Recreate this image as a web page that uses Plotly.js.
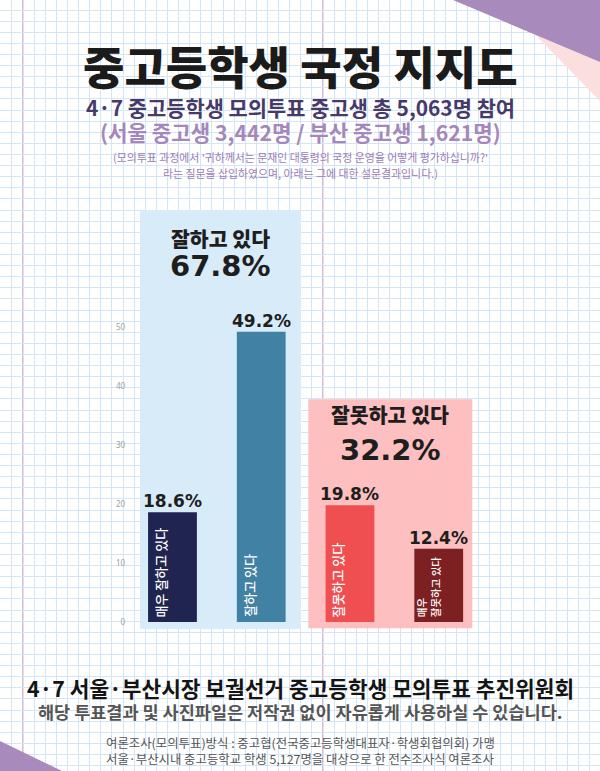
<!DOCTYPE html>
<html>
<head>
<meta charset="utf-8">
<script src="https://cdn.plot.ly/plotly-3.0.1.min.js"></script>
<style>html,body{margin:0;padding:0;background:#fff;}#chart{width:600px;height:771px;}</style>
</head>
<body>
<div id="chart"></div>
<script>
// ---- data ----
const categories = ['매우 잘하고 있다', '잘하고 있다', '잘못하고 있다', '매우 잘못하고 있다'];
const barLabels = ['매우 잘하고 있다', '잘하고 있다', '잘못하고 있다', '매우<br>잘못하고 있다'];
const values = [18.6, 49.2, 19.8, 12.4];
const barColors = ['#1f2550', '#4181a3', '#f04f51', '#7c2022'];
const groupNames = ['잘하고 있다', '잘못하고 있다'];
const groupTotals = [67.8, 32.2];
const yTickVals = [0, 10, 20, 30, 40, 50];
const titleText = '중고등학생 국정 지지도';
const subtitle1 = '4·7 중고등학생 모의투표 중고생 총 5,063명 참여';
const subtitle2 = '(서울 중고생 3,442명 / 부산 중고생 1,621명)';
const noteLines = ["(모의투표 과정에서 '귀하께서는 문재인 대통령의 국정 운영을 어떻게 평가하십니까?'", "라는 질문을 삽입하였으며, 아래는 그에 대한 설문결과입니다.)"];
const footer1 = '4·7 서울·부산시장 보궐선거 중고등학생 모의투표 추진위원회';
const footer2 = '해당 투표결과 및 사진파일은 저작권 없이 자유롭게 사용하실 수 있습니다.';
const footerNotes = ['여론조사(모의투표)방식 : 중고협(전국중고등학생대표자·학생회협의회) 가맹', '서울·부산시내 중고등학교 학생 5,127명을 대상으로 한 전수조사식 여론조사'];

// ---- layout geometry ----
const W = 600, H = 771;
const KR = '"Noto Sans CJK KR", "Noto Sans", sans-serif';
const NUM = '"DejaVu Sans", "Noto Sans CJK KR", sans-serif';
const y0px = 622, pxPerUnit = 5.9;
const yRange = [-1.3, 70];
const yTopPx = y0px - yRange[1] * pxPerUnit, yBotPx = y0px - yRange[0] * pxPerUnit;
const xLeftPx = 128.1, xRightPx = 483.1;
const py = p => 1 - p / H;             // pixel y -> paper
const pyU = p => (y0px - p) / pxPerUnit; // pixel y -> y2 units
const pxI = p => (p - xLeftPx) / ((xRightPx - xLeftPx) / 4) - 0.5; // pixel x -> category index

const traces = [
  // hidden trace to hold the background grid subplot
  {x: [0], y: [0], xaxis: 'x', yaxis: 'y', mode: 'markers', marker: {opacity: 0}, hoverinfo: 'skip', showlegend: false},
  {
    type: 'bar', x: categories, y: values, xaxis: 'x2', yaxis: 'y2',
    marker: {color: barColors}, width: 0.55, hoverinfo: 'skip', showlegend: false
  }
];

const annotations = [];
function txt(text, x, y, size, color, family, weight, extra) {
  annotations.push(Object.assign({
    text, x, y, xref: 'paper', yref: 'paper', xanchor: 'center', yanchor: 'middle', borderpad: 0,
    showarrow: false, font: {size, color, family, weight}
  }, extra || {}));
}
txt(titleText, 0.5, py(65), 45, '#1b1b1b', KR, 900);
txt(subtitle1, 0.5, py(107), 20.9, '#463a6b', KR, 700);
txt(subtitle2, 0.5, py(131.5), 21.2, '#a487bb', KR, 700);
txt(noteLines[0], 0.5, py(157), 10.9, '#9a7db5', KR, 400);
txt(noteLines[1], 0.5, py(173), 10.9, '#9a7db5', KR, 400);
txt(footer1, 0.5, py(687), 21.4, '#141414', KR, 700);
txt(footer2, 0.5, py(711), 17.5, '#555555', KR, 700);
txt(footerNotes[0], 0.5, py(743), 12.4, '#555555', KR, 400);
txt(footerNotes[1], 0.5, py(759), 12.4, '#555555', KR, 400);

// group headers
const groupX = [pxI(220.5), pxI(390.3)];
const headY = [238, 414], totY = [266, 450];
groupNames.forEach((g, i) => {
  annotations.push({text: g, x: groupX[i], y: pyU(headY[i]), xref: 'x2', yref: 'y2', showarrow: false, borderpad: 0,
    xanchor: 'center', yanchor: 'middle', font: {size: 20.5, color: '#1e1e1e', family: KR, weight: 900}});
  annotations.push({text: groupTotals[i].toFixed(1) + '%', x: groupX[i], y: pyU(totY[i]), xref: 'x2', yref: 'y2', showarrow: false, borderpad: 0,
    xanchor: 'center', yanchor: 'middle', font: {size: 29, color: '#1e1e1e', family: NUM, weight: 700}});
});
// value labels and inside (rotated) labels, font fitted to the bar length
function emLength(s) {
  return Math.max(...s.split('<br>').map(l => [...l].reduce((a, ch) => a + (ch === ' ' ? 0.22 : 1), 0)));
}
categories.forEach((c, i) => {
  annotations.push({text: values[i].toFixed(1) + '%', x: c, y: values[i], xref: 'x2', yref: 'y2', showarrow: false,
    xanchor: 'center', yanchor: 'bottom', yshift: 0, borderpad: 0, font: {size: 17, color: '#1e1e1e', family: NUM, weight: 700}});
  const fit = Math.min(13, (values[i] * pxPerUnit - 8) / emLength(barLabels[i]));
  const multi = barLabels[i].includes('<br>');
  annotations.push({text: barLabels[i], x: c, y: 0, xref: 'x2', yref: 'y2', showarrow: false, textangle: -90,
    xanchor: 'center', yanchor: 'bottom', yshift: 4, xshift: multi ? -10 : -12, align: 'left', borderpad: 0,
    font: {size: fit, color: '#ffffff', family: KR, weight: 500}});
});

const shapes = [
  // pink margin lines on the notebook grid
  {type: 'line', xref: 'x', yref: 'paper', x0: 2, x1: 2, y0: 0, y1: 1, layer: 'between', line: {color: '#e6b3c8', width: 2}},
  {type: 'line', xref: 'x', yref: 'paper', x0: 29, x1: 29, y0: 0, y1: 1, layer: 'between', line: {color: '#e6b3c8', width: 2}},
  // group panels
  {type: 'rect', xref: 'x2', yref: 'y2', x0: pxI(140), x1: pxI(301), y0: pyU(629), y1: pyU(210), layer: 'between',
    fillcolor: '#d8ebf8', line: {width: 0}},
  {type: 'rect', xref: 'x2', yref: 'y2', x0: pxI(308.3), x1: pxI(472.3), y0: pyU(628.3), y1: pyU(399.3), layer: 'between',
    fillcolor: '#fdbfbf', line: {width: 0}},
  // corner decorations
  {type: 'path', xref: 'paper', yref: 'paper', layer: 'above', line: {width: 0}, fillcolor: '#fbdede',
    path: `M ${535/W} ${py(34.4)} L 1 ${py(62)} L 1 ${py(101)} Z`},
  {type: 'path', xref: 'paper', yref: 'paper', layer: 'above', line: {width: 0}, fillcolor: '#a98abc',
    path: `M ${453/W} 1 L 1 1 L 1 ${py(62)} Z`},
  {type: 'path', xref: 'paper', yref: 'paper', layer: 'above', line: {width: 0}, fillcolor: '#a98abc',
    path: `M 0 ${py(741)} L 0 0 L ${62/W} 0 Z`}
];

const gridUnit = 600 / 54;
const layout = {
  width: W, height: H,
  margin: {l: 0, r: 0, t: 0, b: 0},
  paper_bgcolor: '#ffffff', plot_bgcolor: 'rgba(0,0,0,0)',
  showlegend: false,
  xaxis: {domain: [0, 1], range: [-0.072, 54 - 0.072], tick0: 0, dtick: 1, showgrid: true, gridcolor: '#d3e5f6', gridwidth: 1,
    zeroline: false, showticklabels: false, ticks: '', fixedrange: true},
  yaxis: {domain: [0, 1], range: [H / gridUnit - 0.9, -0.9], tick0: 0, dtick: 1, showgrid: true, gridcolor: '#d3e5f6', gridwidth: 1,
    zeroline: false, showticklabels: false, ticks: '', fixedrange: true},
  xaxis2: {domain: [xLeftPx / W, xRightPx / W], range: [-0.5, 3.5], type: 'category', anchor: 'y2',
    showgrid: false, zeroline: false, showticklabels: false, ticks: '', showline: false, fixedrange: true},
  yaxis2: {domain: [1 - yBotPx / H, 1 - yTopPx / H], range: yRange, anchor: 'x2', tickvals: yTickVals,
    showgrid: false, zeroline: false, showline: false, ticks: '', ticklabelstandoff: 2,
    tickfont: {size: 8, color: '#a0a0a0', family: '"Noto Sans", sans-serif'}, fixedrange: true},
  annotations, shapes
};

Plotly.newPlot('chart', traces, layout, {staticPlot: true, displayModeBar: false});
</script>
</body>
</html>
